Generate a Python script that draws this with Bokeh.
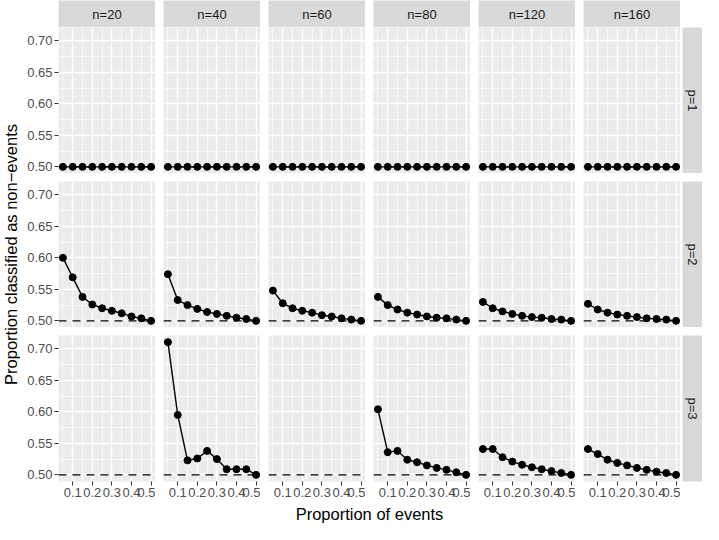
import math
from bokeh.plotting import figure
from bokeh.models import (GridBox, Range1d, Grid, FixedTicker, LinearAxis, Span,
                          NumeralTickFormatter, ColumnDataSource)
from bokeh.core.properties import value
from bokeh.embed import file_html
from bokeh.resources import INLINE

# ---------------- data ----------------
n_values = [20, 40, 60, 80, 120, 160]
p_values = [1, 2, 3]
prop_events = [0.05, 0.10, 0.15, 0.20, 0.25, 0.30, 0.35, 0.40, 0.45, 0.50]
reference_level = 0.5

p1_n20 = [0.500, 0.500, 0.500, 0.500, 0.500, 0.500, 0.500, 0.500, 0.500, 0.500]
p1_n40 = [0.500, 0.500, 0.500, 0.500, 0.500, 0.500, 0.500, 0.500, 0.500, 0.500]
p1_n60 = [0.500, 0.500, 0.500, 0.500, 0.500, 0.500, 0.500, 0.500, 0.500, 0.500]
p1_n80 = [0.500, 0.500, 0.500, 0.500, 0.500, 0.500, 0.500, 0.500, 0.500, 0.500]
p1_n120 = [0.500, 0.500, 0.500, 0.500, 0.500, 0.500, 0.500, 0.500, 0.500, 0.500]
p1_n160 = [0.500, 0.500, 0.500, 0.500, 0.500, 0.500, 0.500, 0.500, 0.500, 0.500]

p2_n20 = [0.600, 0.569, 0.538, 0.526, 0.520, 0.516, 0.512, 0.507, 0.504, 0.500]
p2_n40 = [0.574, 0.533, 0.525, 0.519, 0.514, 0.511, 0.508, 0.505, 0.503, 0.500]
p2_n60 = [0.548, 0.528, 0.520, 0.516, 0.513, 0.509, 0.507, 0.504, 0.502, 0.500]
p2_n80 = [0.538, 0.525, 0.518, 0.513, 0.510, 0.507, 0.505, 0.504, 0.502, 0.500]
p2_n120 = [0.530, 0.520, 0.515, 0.511, 0.508, 0.506, 0.505, 0.503, 0.502, 0.500]
p2_n160 = [0.527, 0.518, 0.513, 0.510, 0.508, 0.506, 0.504, 0.503, 0.502, 0.500]

p3_n20 = []
p3_n40 = [0.7105, 0.595, 0.523, 0.526, 0.538, 0.525, 0.509, 0.509, 0.509, 0.500]
p3_n60 = []
p3_n80 = [0.604, 0.536, 0.538, 0.524, 0.520, 0.515, 0.511, 0.508, 0.504, 0.500]
p3_n120 = [0.541, 0.541, 0.528, 0.521, 0.516, 0.512, 0.509, 0.506, 0.503, 0.500]
p3_n160 = [0.541, 0.533, 0.524, 0.519, 0.515, 0.511, 0.508, 0.505, 0.503, 0.500]

series = {
    (1, 20): p1_n20, (1, 40): p1_n40, (1, 60): p1_n60,
    (1, 80): p1_n80, (1, 120): p1_n120, (1, 160): p1_n160,
    (2, 20): p2_n20, (2, 40): p2_n40, (2, 60): p2_n60,
    (2, 80): p2_n80, (2, 120): p2_n120, (2, 160): p2_n160,
    (3, 20): p3_n20, (3, 40): p3_n40, (3, 60): p3_n60,
    (3, 80): p3_n80, (3, 120): p3_n120, (3, 160): p3_n160,
}

x_ticks = [0.1, 0.2, 0.3, 0.4, 0.5]
x_minor = [0.05, 0.15, 0.25, 0.35, 0.45]
y_ticks = [0.50, 0.55, 0.60, 0.65, 0.70]
y_minor = [0.525, 0.575, 0.625, 0.675]

x_label = "Proportion of events"
y_label = "Proportion classified as non\u2212events"

# ---------------- style ----------------
FONT = "Liberation Sans"
PANEL_BG = "#EBEBEB"
STRIP_BG = "#D9D9D9"
TICK_COLOR = "#333333"
TICK_LABEL_COLOR = "#4D4D4D"
STRIP_TEXT = "#1A1A1A"
SMALL_FONT = "13px"
TITLE_FONT = "16.5px"

FRAME_W = 97
FRAME_H = 146
GAP = 8
LEFT_AXIS = 38
BOTTOM_AXIS = 22
STRIP_H = 27
STRIP_W = 20
YLAB_W = 20
XLAB_H = 20

# ranges with ggplot-like 5% expansion
all_y = [v for vals in series.values() for v in vals] + [reference_level]
ymin, ymax = min(all_y), max(all_y)
xmin, xmax = min(prop_events), max(prop_events)
dx, dy = (xmax - xmin) * 0.05, (ymax - ymin) * 0.05
x_range = Range1d(xmin - dx, xmax + dx)
y_range = Range1d(ymin - dy, ymax + dy)


def base_fig(width, height, left, right, top, bottom, bg, xr=None, yr=None):
    f = figure(width=width, height=height,
               x_range=xr if xr is not None else Range1d(0, 1),
               y_range=yr if yr is not None else Range1d(0, 1),
               toolbar_location=None, output_backend="svg",
               x_axis_location=None, y_axis_location=None,
               min_border=0,
               min_border_left=left, min_border_right=right,
               min_border_top=top, min_border_bottom=bottom,
               background_fill_color=bg, border_fill_color="white",
               outline_line_color=None)
    f.center = []
    return f


def style_axis(ax):
    ax.axis_line_color = None
    ax.major_tick_in = 0
    ax.major_tick_out = 4
    ax.minor_tick_in = 0
    ax.minor_tick_out = 0
    ax.major_tick_line_color = TICK_COLOR
    ax.major_tick_line_width = 1
    ax.major_label_text_font = FONT
    ax.major_label_text_font_size = SMALL_FONT
    ax.major_label_text_color = TICK_LABEL_COLOR
    ax.major_label_standoff = 2


children = []
ncol = len(n_values)
nrow = len(p_values)

# top strips
for ci, n in enumerate(n_values):
    left = LEFT_AXIS if ci == 0 else GAP
    s = base_fig(left + FRAME_W, STRIP_H, left, 0, 0, 0, STRIP_BG)
    s.text(x=[0.5], y=[0.5], text=[f"n={n}"], text_align="center",
           text_baseline="middle", text_font=value(FONT),
           text_font_size=SMALL_FONT, text_color=STRIP_TEXT)
    children.append((s, 0, ci + 1))

# panels
for ri, pv in enumerate(p_values):
    top = 0 if ri == 0 else GAP
    bottom = BOTTOM_AXIS if ri == nrow - 1 else 0
    for ci, n in enumerate(n_values):
        left = LEFT_AXIS if ci == 0 else GAP
        f = base_fig(left + FRAME_W, top + FRAME_H + bottom, left, 0, top, bottom,
                     PANEL_BG, x_range, y_range)
        f.add_layout(Grid(dimension=0, ticker=FixedTicker(ticks=x_ticks, minor_ticks=x_minor),
                          grid_line_color="white", grid_line_width=1.4,
                          minor_grid_line_color="white", minor_grid_line_width=0.7,
                          level="underlay"))
        f.add_layout(Grid(dimension=1, ticker=FixedTicker(ticks=y_ticks, minor_ticks=y_minor),
                          grid_line_color="white", grid_line_width=1.4,
                          minor_grid_line_color="white", minor_grid_line_width=0.7,
                          level="underlay"))
        span = Span(location=reference_level, dimension="width", line_color="black",
                    line_width=1.4, line_dash="8 6", level="glyph")
        f.add_layout(span)
        vals = series[(pv, n)]
        if vals:
            src = ColumnDataSource(dict(x=prop_events[:len(vals)], y=vals))
            f.line("x", "y", source=src, line_color="black", line_width=1.4)
            f.scatter("x", "y", source=src, size=7, fill_color="black", line_color="black")
        if ci == 0:
            ya = LinearAxis(ticker=FixedTicker(ticks=y_ticks),
                            formatter=NumeralTickFormatter(format="0.00"))
            style_axis(ya)
            f.add_layout(ya, "left")
        if ri == nrow - 1:
            xa = LinearAxis(ticker=FixedTicker(ticks=x_ticks))
            style_axis(xa)
            f.add_layout(xa, "below")
        children.append((f, ri + 1, ci + 1))

    # right strip
    rs = base_fig(2 + STRIP_W, top + FRAME_H + bottom, 2, 0, top, bottom, STRIP_BG)
    rs.text(x=[0.5], y=[0.5], text=[f"p={pv}"], text_align="center",
            text_baseline="middle", angle=-math.pi / 2, text_font=value(FONT),
            text_font_size=SMALL_FONT, text_color=STRIP_TEXT)
    children.append((rs, ri + 1, ncol + 1))

# y-axis title (spans panel rows)
ylab_h = FRAME_H + (nrow - 1) * (GAP + FRAME_H) + BOTTOM_AXIS
yl = base_fig(YLAB_W, ylab_h, 0, 0, 0, BOTTOM_AXIS, "white")
yl.text(x=[0.5], y=[0.5], text=[y_label], text_align="center", text_baseline="middle",
        angle=math.pi / 2, text_font=value(FONT), text_font_size=TITLE_FONT,
        text_color="black")
children.append((yl, 1, 0, nrow, 1))

# x-axis title (spans panel columns)
xlab_w = LEFT_AXIS + FRAME_W + (ncol - 1) * (GAP + FRAME_W)
xl = base_fig(xlab_w, XLAB_H, LEFT_AXIS, 0, 0, 0, "white")
xl.text(x=[0.5], y=[0.5], text=[x_label], text_align="center", text_baseline="middle",
        text_font=value(FONT), text_font_size=TITLE_FONT, text_color="black")
children.append((xl, nrow + 1, 1, 1, ncol))

layout = GridBox(children=children, spacing=0)

open("out.html", "w").write(file_html(layout, INLINE))
